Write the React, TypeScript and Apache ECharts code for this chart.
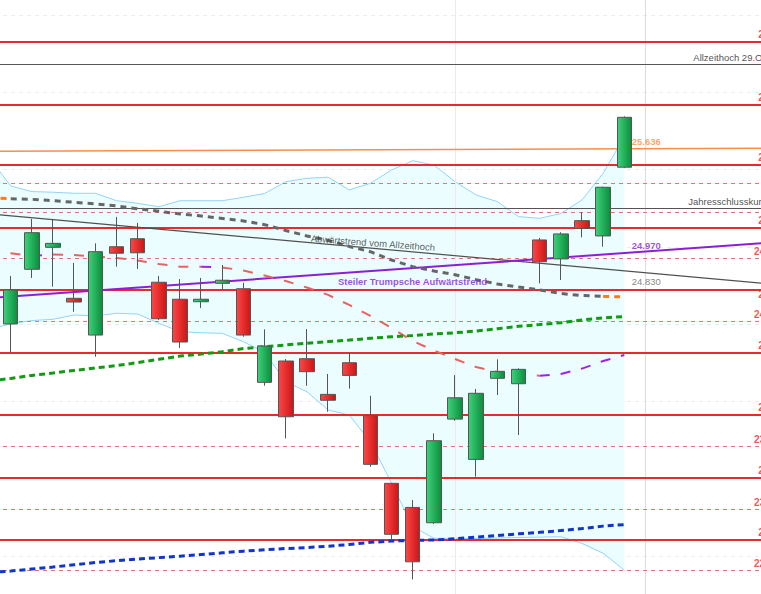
import React, { useEffect, useRef } from "react";
import * as echarts from "echarts";

// ---- data (slot 0 is the session just left of the visible area) ----
const categories = Array.from({ length: 38 }, (_, i) => `T${i}`);

// [open, close, low, high]
const candles: (number[] | string)[] = [
  "-",
  [24501, 24721, 24319, 24812],
  [24855, 25092, 24799, 25181],
  [24997, 25023, 24742, 25174],
  [24667, 24643, 24580, 24896],
  [24429, 24969, 24289, 25023],
  [25001, 24959, 24872, 25194],
  [25053, 24962, 24857, 25155],
  [24771, 24535, 24527, 24812],
  [24661, 24384, 24345, 24792],
  [24645, 24661, 24604, 24799],
  [24764, 24784, 24727, 24883],
  [24729, 24429, 24418, 24768],
  [24123, 24358, 24101, 24466],
  [24261, 23900, 23760, 24274],
  [24276, 24192, 24101, 24468],
  [24045, 24007, 23933, 24177],
  [24250, 24168, 24082, 24315],
  [23907, 23592, 23576, 24036],
  [23469, 23139, 23102, 23471],
  [23313, 22961, 22847, 23361],
  [23214, 23745, 23205, 23793],
  [23885, 24023, 23874, 24170],
  [23624, 24052, 23512, 24080],
  [24149, 24194, 24041, 24272],
  [24114, 24207, 23782, 24214],
  [25045, 24904, 24764, 25058],
  [24922, 25084, 24786, 25095],
  [25170, 25119, 25062, 25224],
  [25071, 25386, 25001, 25390],
  [25516, 25839, 25510, 25845],
];

const bollUpper = [25576, 25394, 25358, 25354, 25347, 25347, 25299, 25282, 25260, 25299, 25299, 25299, 25321, 25346, 25422, 25444, 25451, 25369, 25412, 25498, 25558, 25530, 25422, 25336, 25293, 25196, 25185, 25216, 25304, 25477, 25714];
const bollLower = [24468, 24501, 24523, 24531, 24559, 24553, 24570, 24565, 24505, 24451, 24444, 24440, 24386, 24316, 24127, 24062, 23944, 23911, 23738, 23469, 23188, 23113, 23113, 23111, 23115, 23118, 23121, 23123, 23080, 23016, 22907];
const maGray = [25317, 25312, 25308, 25299, 25289, 25278, 25265, 25247, 25231, 25213, 25200, 25184, 25168, 25144, 25106, 25071, 25042, 25003, 24969, 24915, 24872, 24844, 24820, 24787, 24760, 24740, 24721, 24698, 24685, 24679, 24676];
const maRed = [24973, 24959, 24941, 24950, 24948, 24938, 24928, 24912, 24889, 24872, 24872, 24867, 24847, 24815, 24779, 24737, 24689, 24624, 24553, 24475, 24391, 24329, 24274, 24222, 24190, 24170, 24166, 24177, 24212, 24261, 24300];
const maGreen = [24132, 24148, 24168, 24183, 24200, 24216, 24231, 24251, 24272, 24293, 24306, 24321, 24342, 24354, 24365, 24376, 24387, 24397, 24408, 24418, 24426, 24436, 24444, 24455, 24470, 24486, 24497, 24509, 24527, 24540, 24549];
const maBlue = [22891, 22901, 22914, 22927, 22942, 22956, 22968, 22979, 22988, 22997, 23008, 23019, 23030, 23039, 23047, 23053, 23062, 23073, 23087, 23095, 23100, 23102, 23110, 23121, 23131, 23142, 23152, 23163, 23176, 23192, 23202];

const solidLevels = [26327, 25921, 25534, 25127, 24721, 24317, 23913, 23508, 23104];
const dashedLevels = [25411, 25223, 24924, 24516, 23709, 23301, 22907];
const labeledDashedLevels = [24924, 24516, 23709, 23301, 22907];
const allTimeHigh = 26182;
const yearClose = 25249.85;

// trendlines: value at the left and right end of the slot range
const trendDown = [25219, 24753];
const trendUp = [24664, 25033];
const trendOrange = [25618, 25640];
const trendDownLabel = 24830;
const trendUpLabel = 24970;
const trendOrangeLabel = 25636;

const texts = {
  ath: "Allzeithoch 29.Okt.2025",
  yearClose: "Jahresschlusskurs 2025",
  down: "Abwärtstrend vom Allzeithoch",
  up: "Steiler Trumpsche Aufwärtstrend",
};

// ---- helpers ----
const fmt = (v: number) =>
  Math.round(v).toString().replace(/\B(?=(\d{3})+(?!\d))/g, ".");
const seg = (vals: number[], from: number, to: number) =>
  vals.map((v, i) => (i >= from && i <= to ? v : "-"));
const SLOTS = categories.length;
const trendAt = (t: number[], s: number) => t[0] + ((t[1] - t[0]) * s) / SLOTS;

const RED = "#e62a2d";
const RED_LIGHT = "#ee7070";
const FONT = "'Liberation Sans', Arial, sans-serif";

export default function App() {
  const ref = useRef<HTMLDivElement>(null);

  useEffect(() => {
    document.body.style.margin = "0";
    if (!ref.current) return;
    const chart = echarts.init(ref.current, undefined, { renderer: "svg" });

    const greenFill = new echarts.graphic.LinearGradient(0, 0, 1, 0, [
      { offset: 0, color: "#3dd27a" },
      { offset: 1, color: "#0c8c3c" },
    ]);
    const redFill = new echarts.graphic.LinearGradient(0, 0, 1, 0, [
      { offset: 0, color: "#ff4646" },
      { offset: 1, color: "#c81616" },
    ]);

    const maLine = (name: string, data: any[], color: string, width: number, dash: number[]) => ({
      name,
      type: "line",
      data,
      symbol: "none",
      silent: true,
      z: 4,
      lineStyle: { color, width, type: dash },
    });

    const lbl = (
      slot: number,
      value: number,
      text: string,
      color: string,
      opts: any = {}
    ) => ({
      value: [slot, value],
      label: {
        show: true,
        formatter: text,
        color,
        fontFamily: FONT,
        fontSize: 9.5,
        position: "right",
        distance: 0,
        ...opts,
      },
    });

    const option: any = {
      animation: false,
      backgroundColor: "#ffffff",
      textStyle: { fontFamily: FONT },
      grid: { left: 0, right: 0, top: 0, bottom: 0, containLabel: false },
      xAxis: [
        {
          type: "category",
          data: categories,
          boundaryGap: true,
          show: false,
        },
        {
          type: "value",
          min: 0,
          max: SLOTS,
          show: false,
        },
      ],
      yAxis: {
        type: "value",
        min: 22500,
        max: 27000,
        interval: 500,
        position: "right",
        axisLine: { show: false },
        axisTick: { show: false },
        axisLabel: { show: false },
        splitLine: { show: true, lineStyle: { color: "#ececec", type: [4, 4], width: 1 } },
      },
      series: [
        // Bollinger band
        {
          name: "BB unten",
          type: "line",
          data: bollLower,
          stack: "bb",
          symbol: "none",
          silent: true,
          z: 1,
          lineStyle: { color: "#93d4f6", width: 1 },
        },
        {
          name: "BB oben",
          type: "line",
          data: bollUpper.map((u, i) => u - bollLower[i]),
          stack: "bb",
          symbol: "none",
          silent: true,
          z: 1,
          lineStyle: { color: "#93d4f6", width: 1 },
          areaStyle: { color: "#ebfdfe", opacity: 1 },
        },
        // horizontal levels and vertical markers
        {
          name: "Levels",
          type: "line",
          xAxisIndex: 1,
          data: [],
          silent: true,
          z: 2,
          markLine: {
            silent: true,
            z: 2,
            symbol: ["none", "none"],
            label: { show: false },
            emphasis: { disabled: true },
            data: [
              { xAxis: 31.5, lineStyle: { color: "#dcdcdc", width: 1, type: "solid" } },
              { xAxis: 22.5, lineStyle: { color: "#ebebeb", width: 1, type: "solid" } },
              ...dashedLevels.map((v) => ({
                yAxis: v,
                lineStyle: { color: RED_LIGHT, width: 1, type: [4, 4] },
              })),
              ...solidLevels.map((v) => ({
                yAxis: v,
                lineStyle: { color: RED, width: 2, type: "solid" },
              })),
              { yAxis: allTimeHigh, lineStyle: { color: "#555555", width: 1, type: "solid" } },
              { yAxis: yearClose, lineStyle: { color: "#555555", width: 1, type: "solid" } },
            ],
          },
        },
        // trendlines
        {
          name: "Orange",
          type: "line",
          xAxisIndex: 1,
          data: [[0, trendOrange[0]], [SLOTS, trendOrange[1]]],
          symbol: "none",
          silent: true,
          z: 3,
          lineStyle: { color: "#fb8c4c", width: 1.5 },
        },
        {
          name: "Abwärtstrend",
          type: "line",
          xAxisIndex: 1,
          data: [[0, trendDown[0]], [SLOTS, trendDown[1]]],
          symbol: "none",
          silent: true,
          z: 3,
          lineStyle: { color: "#505050", width: 1.2 },
        },
        {
          name: "Aufwärtstrend",
          type: "line",
          xAxisIndex: 1,
          data: [[0, trendUp[0]], [SLOTS, trendUp[1]]],
          symbol: "none",
          silent: true,
          z: 3,
          lineStyle: { color: "#8a1fd6", width: 2 },
        },
        // moving averages
        maLine("MA grau a", seg(maGray, 0, 1), "#ff7a1f", 3, [6, 5]),
        maLine("MA grau", seg(maGray, 1, 29), "#666666", 3, [6, 5]),
        maLine("MA grau b", seg(maGray, 29, 30), "#ff7a1f", 3, [6, 5]),
        maLine("MA rot a", seg(maRed, 0, 2), "#e86262", 2, [10, 11]),
        maLine("MA rot b", seg(maRed, 2, 3), "#a020f0", 2, [10, 11]),
        maLine("MA rot c", seg(maRed, 3, 10), "#e86262", 2, [10, 11]),
        maLine("MA rot d", seg(maRed, 10, 11), "#a020f0", 2, [10, 11]),
        maLine("MA rot e", seg(maRed, 11, 26), "#e86262", 2, [10, 11]),
        maLine("MA rot f", seg(maRed, 26, 30), "#a020f0", 2, [10, 11]),
        maLine("MA grün", maGreen, "#129a12", 3, [6, 4]),
        maLine("MA blau", maBlue, "#1035cc", 3, [6, 4]),
        // candles
        {
          name: "Kurs",
          type: "candlestick",
          data: candles,
          barWidth: 15,
          silent: true,
          z: 5,
          itemStyle: {
            color: greenFill,
            color0: redFill,
            borderColor: "#555555",
            borderColor0: "#555555",
            borderWidth: 1,
          },
        },
        // labels
        {
          name: "Labels",
          type: "scatter",
          xAxisIndex: 1,
          symbolSize: 0,
          silent: true,
          z: 20,
          data: [
            lbl(33.76, allTimeHigh, texts.ath, "#222222", { offset: [0, -6.5] }),
            lbl(33.52, yearClose, texts.yearClose, "#222222", { offset: [0, -7] }),
            lbl(18.6, trendAt(trendDown, 18.6), texts.down, "#333333", {
              position: "inside",
              offset: [0, -5.5],
              rotate: -4.25,
            }),
            lbl(20.49, trendAt(trendUp, 20.49), texts.up, "#8a1fd6", {
              position: "inside",
              offset: [0, 13.6],
              fontWeight: "bold",
            }),
            lbl(30.85, trendOrangeLabel, fmt(trendOrangeLabel), "#fb8c4c", {
              offset: [0, -7],
              fontWeight: "bold",
            }),
            lbl(30.85, trendUpLabel, fmt(trendUpLabel), "#8a1fd6", {
              offset: [0, -6],
              fontWeight: "bold",
            }),
            lbl(30.85, trendDownLabel, fmt(trendDownLabel), "#666666", {
              offset: [0, 8],
            }),
            ...solidLevels.map((v) =>
              lbl(36.83, v, fmt(v), RED, {
                offset: [0, v === 24721 ? 5 : -7],
                fontWeight: "bold",
                fontSize: 10,
              })
            ),
            ...labeledDashedLevels.map((v) =>
              lbl(36.63, v, fmt(v), RED, {
                offset: [0, -7],
                fontWeight: "bold",
                fontSize: 10,
              })
            ),
          ],
        },
      ],
    };

    chart.setOption(option);
    return () => chart.dispose();
  }, []);

  return (
    <div
      style={{ position: "absolute", left: 0, top: 0, width: 761, height: 594, overflow: "hidden" }}
    >
      <div
        ref={ref}
        style={{ position: "absolute", left: -21, top: -62, width: 804, height: 695 }}
      />
    </div>
  );
}
